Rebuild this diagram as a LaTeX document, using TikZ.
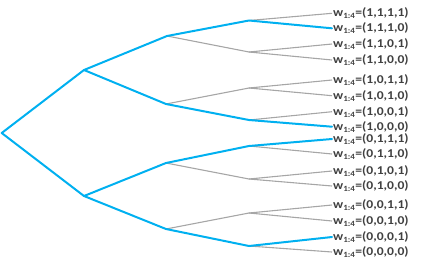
\documentclass[tikz,border=0pt]{standalone}
\usepackage{fontspec}
\setmainfont{Carlito}
\newfontfamily\lblfont[FakeStretch=1.13]{Carlito}
\definecolor{pathblue}{HTML}{00B0F0}
\definecolor{edgegray}{HTML}{A6A6A6}
\definecolor{txtgray}{HTML}{404040}
\tikzset{
  grayedge/.style={draw=edgegray, line width=1.1pt},
  blueedge/.style={draw=pathblue, line width=2pt, line join=round, line cap=round},
  leaflabel/.style={anchor=west, inner sep=1pt, text=txtgray, font=\lblfont\bfseries\fontsize{12}{14}\selectfont}
}
\begin{document}
\begin{tikzpicture}[x=1pt,y=-1pt]
\useasboundingbox (0,0) rectangle (423,269);
% internal nodes
\coordinate (r) at (1.7,133);
\coordinate (a1) at (84,70);
\coordinate (a0) at (84,196);
\coordinate (b11) at (167,36);
\coordinate (b10) at (166,104);
\coordinate (b01) at (166,163);
\coordinate (b00) at (166,229);
\coordinate (c111) at (249,20.5);
\coordinate (c110) at (249,52);
\coordinate (c101) at (249,88);
\coordinate (c100) at (249,120);
\coordinate (c011) at (249,146);
\coordinate (c010) at (249,179);
\coordinate (c001) at (249,213);
\coordinate (c000) at (249,246);
% leaves
\foreach \n/\yy in {1111/13.3,1110/28.3,1101/44,1100/60,1011/80,1010/95.7,1001/111.7,1000/126.7,0111/139,0110/154,0101/171,0100/186,0011/205,0010/221,0001/237,0000/252}{
  \coordinate (l\n) at (332,\yy);
}
% gray edges
\foreach \p/\c in {b11/c110,b10/c101,b01/c010,b00/c001}{
  \draw[grayedge] (\p) -- (\c);
}
\foreach \p/\c in {c111/l1111,c110/l1101,c110/l1100,c101/l1011,c101/l1010,c100/l1001,
  c011/l0110,c010/l0101,c010/l0100,c001/l0011,c001/l0010,c000/l0000}{
  \draw[grayedge] (\p) -- (\c);
}
% blue path edges
\draw[blueedge] (a1) -- (r) -- (a0);
\draw[blueedge] (b11) -- (a1) -- (b10);
\draw[blueedge] (b01) -- (a0) -- (b00);
\draw[blueedge] (b11) -- (c111) -- (l1110);
\draw[blueedge] (b10) -- (c100) -- (l1000);
\draw[blueedge] (b01) -- (c011) -- (l0111);
\draw[blueedge] (b00) -- (c000) -- (l0001);
% labels
\foreach \n/\t in {1111/{1,1,1,1},1110/{1,1,1,0},1101/{1,1,0,1},1100/{1,1,0,0},1011/{1,0,1,1},1010/{1,0,1,0},1001/{1,0,0,1},1000/{1,0,0,0},0111/{0,1,1,1},0110/{0,1,1,0},0101/{0,1,0,1},0100/{0,1,0,0},0011/{0,0,1,1},0010/{0,0,1,0},0001/{0,0,0,1},0000/{0,0,0,0}}{
  \node[leaflabel] (t\n) at (l\n) {w\textsubscript{1:4}=(\t)};
}
\end{tikzpicture}
\end{document}
